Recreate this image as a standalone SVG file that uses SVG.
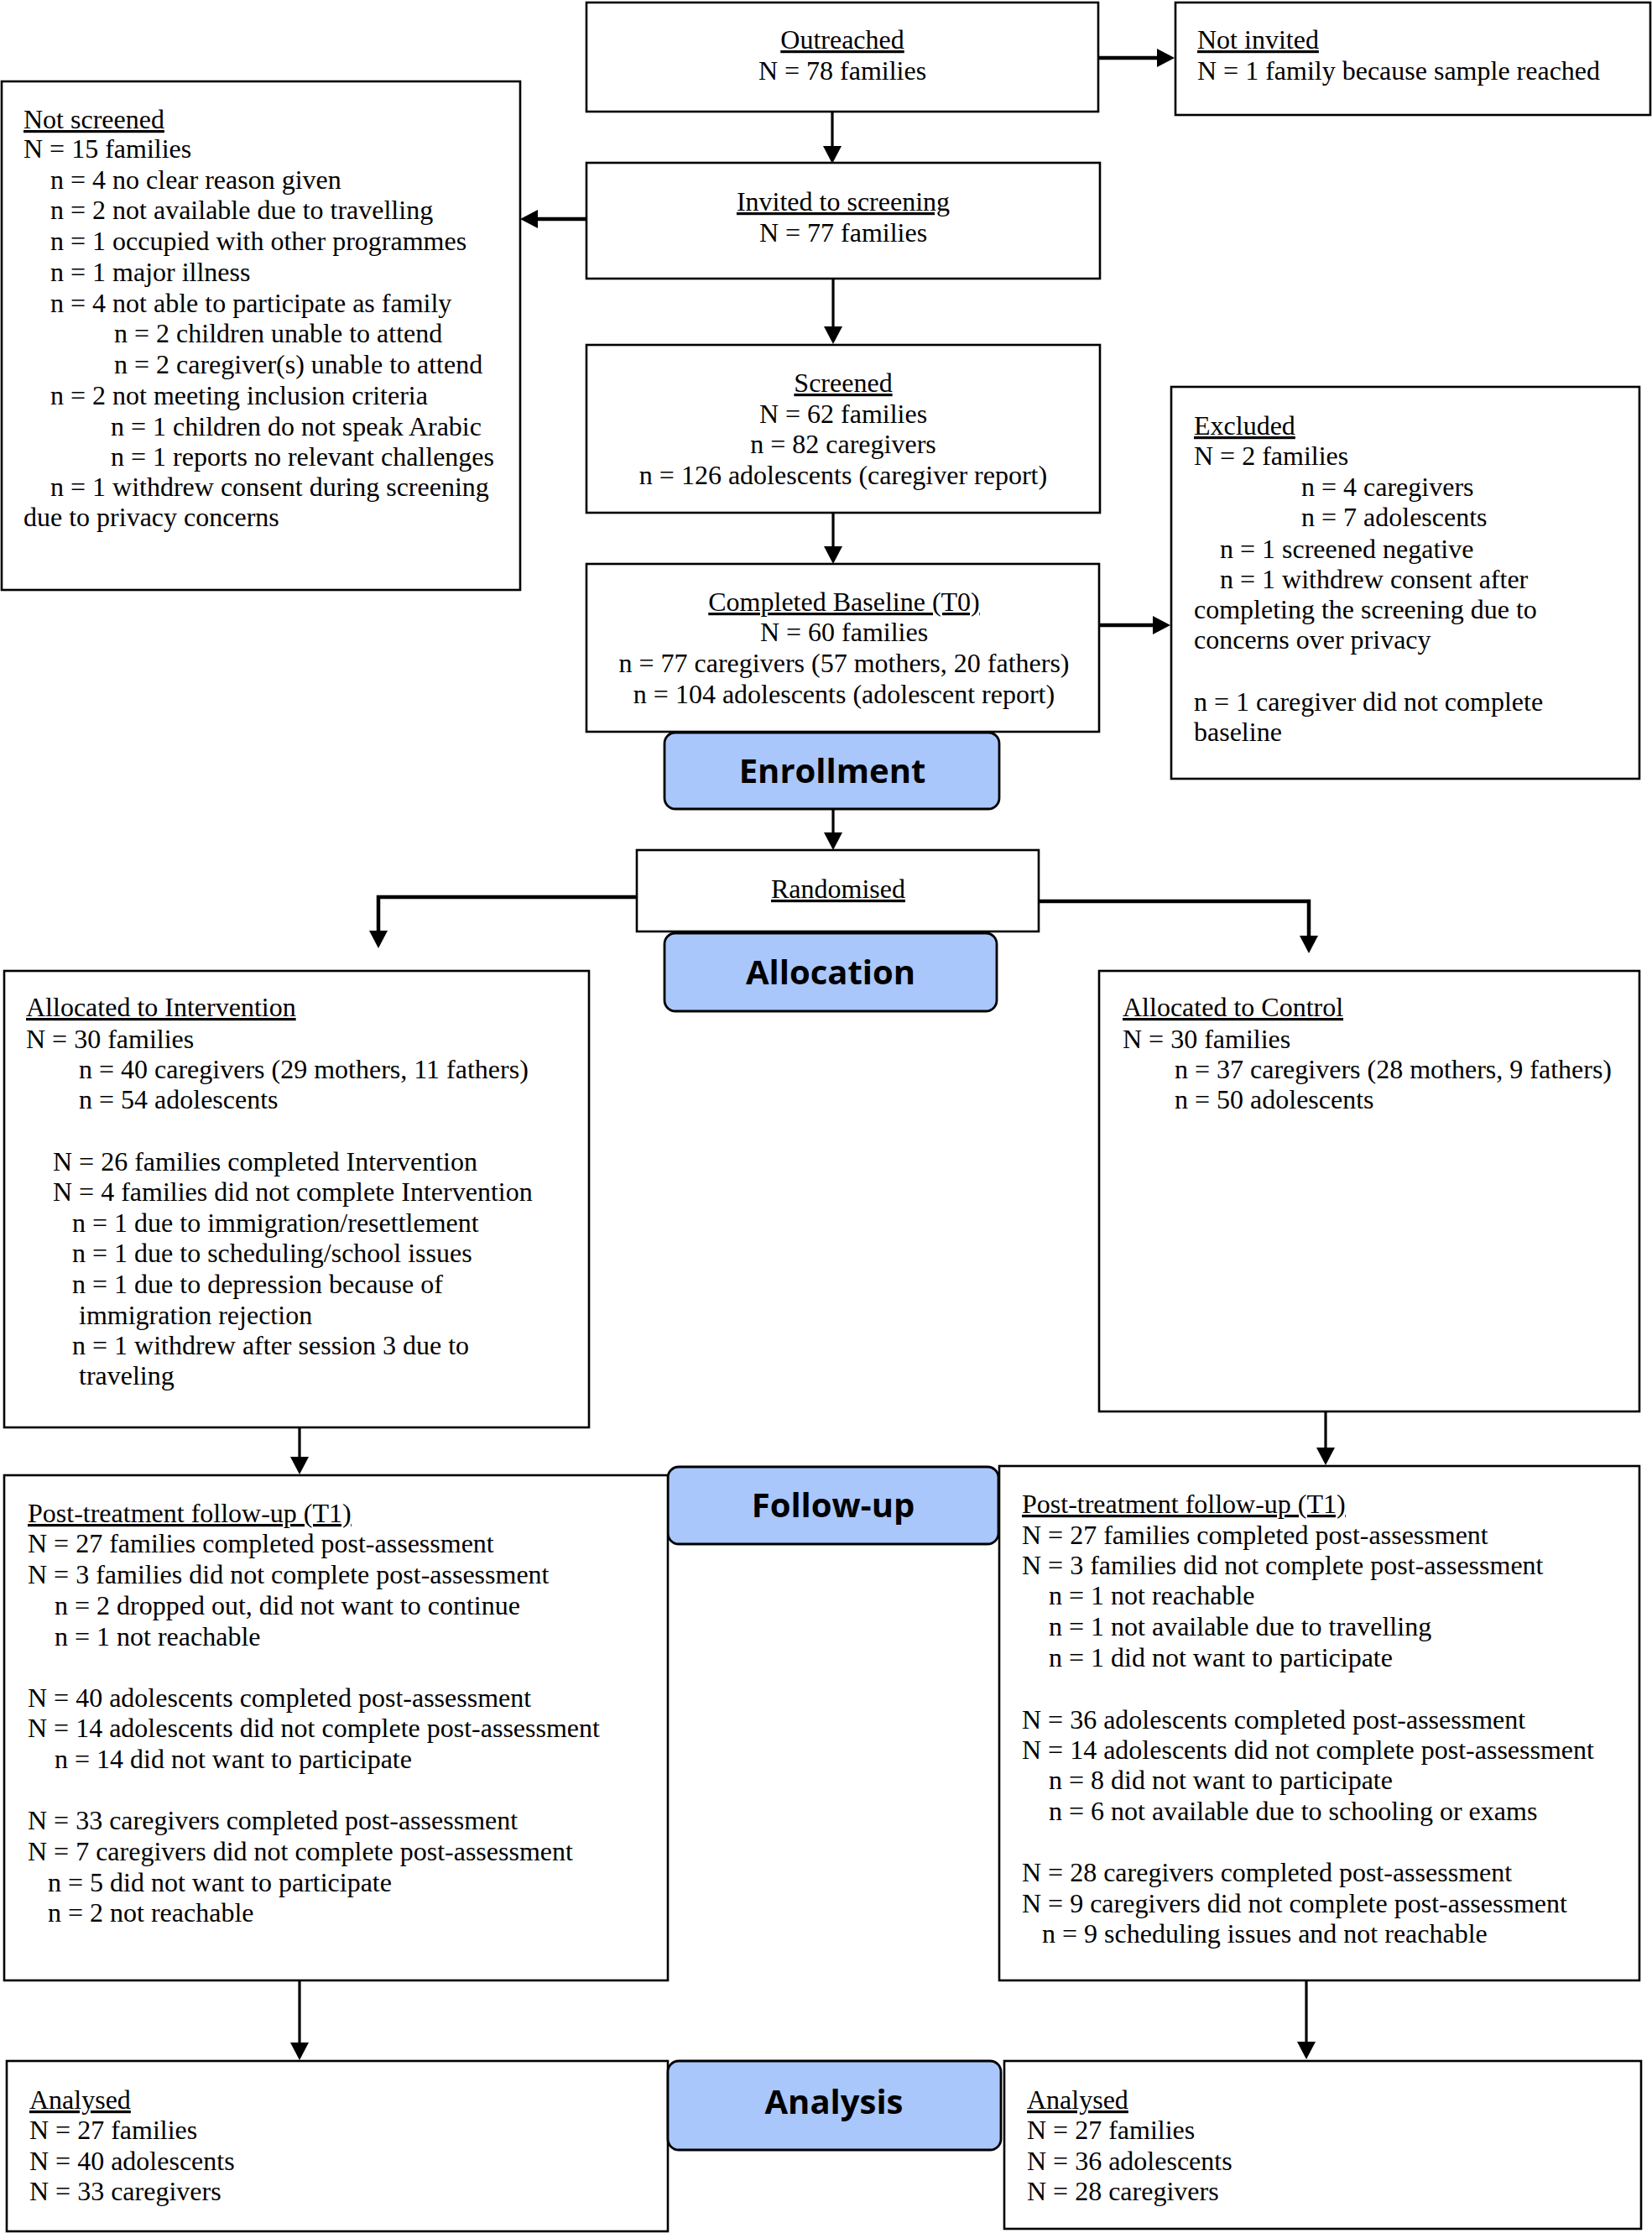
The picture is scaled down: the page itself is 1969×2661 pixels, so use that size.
<svg xmlns="http://www.w3.org/2000/svg" width="1969" height="2661" viewBox="0 0 1969 2661">
<style>
.box{fill:#fff;stroke:#000;stroke-width:2.6}
.lab{fill:#a9c7fb;stroke:#000;stroke-width:2.8}
text{font-family:"Liberation Serif","Times New Roman",serif;font-size:32px;fill:#000}
.c{text-anchor:middle}
.u{text-decoration:underline}
.lt{font-family:"Open Sans","Noto Sans","DejaVu Sans",sans-serif;font-weight:bold;font-size:40px;text-anchor:middle}
.ln{fill:none;stroke:#000;stroke-width:3.2;marker-end:url(#ah)}
.tk{fill:none;stroke:#000;stroke-width:4.5;marker-end:url(#ah)}
</style>
<defs>
<marker id="ah" markerUnits="userSpaceOnUse" markerWidth="21" markerHeight="22" viewBox="0 0 21 22" refX="0" refY="11" orient="auto">
<path d="M0,0 L21,11 L0,22 z" fill="#000"/>
</marker>
</defs>
<rect width="1969" height="2661" fill="#fff"/>

<g id="connectors">
<path class="ln" d="M992,132 V174"/>
<path class="tk" d="M1309,69 H1379"/>
<path class="tk" d="M699,261 H641"/>
<path class="ln" d="M993,333 V389"/>
<path class="ln" d="M993,612 V651"/>
<path class="tk" d="M1310,745 H1374"/>
<path class="ln" d="M993,964 V992"/>
<path class="tk" d="M759,1069 H451 V1109"/>
<path class="tk" d="M1238,1074 H1560 V1115"/>
<path class="ln" d="M357,1701 V1736"/>
<path class="ln" d="M1580,1682 V1725"/>
<path class="ln" d="M357,2360 V2434"/>
<path class="ln" d="M1557,2360 V2433"/>
</g>

<g id="outreached">
<rect class="box" x="699" y="3" width="610" height="130"/>
<text class="c u" x="1004" y="58">Outreached</text>
<text class="c" x="1004" y="95">N = 78 families</text>
</g>

<g id="not-invited">
<rect class="box" x="1401" y="3" width="566" height="134"/>
<text class="u" x="1427" y="58">Not invited</text>
<text x="1427" y="95">N = 1 family because sample reached</text>
</g>

<g id="not-screened">
<rect class="box" x="2" y="97" width="618" height="606"/>
<text class="u" x="28" y="153">Not screened</text>
<text x="28" y="188">N = 15 families</text>
<text x="60" y="224.5">n = 4 no clear reason given</text>
<text x="60" y="261">n = 2 not available due to travelling</text>
<text x="60" y="298">n = 1 occupied with other programmes</text>
<text x="60" y="335">n = 1 major illness</text>
<text x="60" y="372">n = 4 not able to participate as family</text>
<text x="136" y="408">n = 2 children unable to attend</text>
<text x="136" y="445">n = 2 caregiver(s) unable to attend</text>
<text x="60" y="482">n = 2 not meeting inclusion criteria</text>
<text x="132" y="519">n = 1 children do not speak Arabic</text>
<text x="132" y="555">n = 1 reports no relevant challenges</text>
<text x="60" y="591">n = 1 withdrew consent during screening</text>
<text x="28" y="627">due to privacy concerns</text>
</g>

<g id="invited">
<rect class="box" x="699" y="194" width="612" height="138"/>
<text class="c u" x="1005" y="251">Invited to screening</text>
<text class="c" x="1005" y="288">N = 77 families</text>
</g>

<g id="screened">
<rect class="box" x="699" y="411" width="612" height="200"/>
<text class="c u" x="1005" y="467">Screened</text>
<text class="c" x="1005" y="504">N = 62 families</text>
<text class="c" x="1005" y="540">n = 82 caregivers</text>
<text class="c" x="1005" y="577">n = 126 adolescents (caregiver report)</text>
</g>

<g id="baseline">
<rect class="box" x="699" y="672" width="611" height="200"/>
<text class="c u" x="1006" y="728">Completed Baseline (T0)</text>
<text class="c" x="1006" y="764">N = 60 families</text>
<text class="c" x="1006" y="801">n = 77 caregivers (57 mothers, 20 fathers)</text>
<text class="c" x="1006" y="838">n = 104 adolescents (adolescent report)</text>
</g>

<g id="excluded">
<rect class="box" x="1396" y="461" width="558" height="467"/>
<text class="u" x="1423" y="518">Excluded</text>
<text x="1423" y="554">N = 2 families</text>
<text x="1551" y="591">n = 4 caregivers</text>
<text x="1551" y="627">n = 7 adolescents</text>
<text x="1454" y="665">n = 1 screened negative</text>
<text x="1454" y="701">n = 1 withdrew consent after</text>
<text x="1423" y="737">completing the screening due to</text>
<text x="1423" y="773">concerns over privacy</text>
<text x="1423" y="847">n = 1 caregiver did not complete</text>
<text x="1423" y="883">baseline</text>
</g>

<g id="enrollment">
<rect class="lab" x="792" y="873" width="399" height="91" rx="13"/>
<text class="lt" x="992" y="933">Enrollment</text>
</g>

<g id="randomised">
<rect class="box" x="759" y="1013" width="479" height="97"/>
<text class="c u" x="999" y="1070">Randomised</text>
</g>

<g id="allocation">
<rect class="lab" x="792" y="1112" width="396" height="93" rx="13"/>
<text class="lt" x="990" y="1173">Allocation</text>
</g>

<g id="intervention">
<rect class="box" x="5" y="1157" width="697" height="544"/>
<text class="u" x="31" y="1211">Allocated to Intervention</text>
<text x="31" y="1249">N = 30 families</text>
<text x="94" y="1285">n = 40 caregivers (29 mothers, 11 fathers)</text>
<text x="94" y="1321">n = 54 adolescents</text>
<text x="63" y="1395">N = 26 families completed Intervention</text>
<text x="63" y="1431">N = 4 families did not complete Intervention</text>
<text x="86" y="1468">n = 1 due to immigration/resettlement</text>
<text x="86" y="1504">n = 1 due to scheduling/school issues</text>
<text x="86" y="1541">n = 1 due to depression because of</text>
<text x="94" y="1578">immigration rejection</text>
<text x="86" y="1614">n = 1 withdrew after session 3 due to</text>
<text x="94" y="1650">traveling</text>
</g>

<g id="control">
<rect class="box" x="1310" y="1157" width="644" height="525"/>
<text class="u" x="1338" y="1211">Allocated to Control</text>
<text x="1338" y="1249">N = 30 families</text>
<text x="1400" y="1285">n = 37 caregivers (28 mothers, 9 fathers)</text>
<text x="1400" y="1321">n = 50 adolescents</text>
</g>

<g id="followup">
<rect class="lab" x="796" y="1748" width="394" height="92" rx="13"/>
<text class="lt" x="993" y="1808">Follow-up</text>
</g>

<g id="post-left">
<rect class="box" x="5" y="1758" width="791" height="602"/>
<text class="u" x="33" y="1814">Post-treatment follow-up (T1)</text>
<text x="33" y="1850">N = 27 families completed post-assessment</text>
<text x="33" y="1887">N = 3 families did not complete post-assessment</text>
<text x="65" y="1924">n = 2 dropped out, did not want to continue</text>
<text x="65" y="1961">n = 1 not reachable</text>
<text x="33" y="2034">N = 40 adolescents completed post-assessment</text>
<text x="33" y="2070">N = 14 adolescents did not complete post-assessment</text>
<text x="65" y="2107">n = 14 did not want to participate</text>
<text x="33" y="2180">N = 33 caregivers completed post-assessment</text>
<text x="33" y="2217">N = 7 caregivers did not complete post-assessment</text>
<text x="57" y="2254">n = 5 did not want to participate</text>
<text x="57" y="2290">n = 2 not reachable</text>
</g>

<g id="post-right">
<rect class="box" x="1191" y="1747" width="763" height="613"/>
<text class="u" x="1218" y="1803">Post-treatment follow-up (T1)</text>
<text x="1218" y="1840">N = 27 families completed post-assessment</text>
<text x="1218" y="1876">N = 3 families did not complete post-assessment</text>
<text x="1250" y="1912">n = 1 not reachable</text>
<text x="1250" y="1949">n = 1 not available due to travelling</text>
<text x="1250" y="1986">n = 1 did not want to participate</text>
<text x="1218" y="2060">N = 36 adolescents completed post-assessment</text>
<text x="1218" y="2096">N = 14 adolescents did not complete post-assessment</text>
<text x="1250" y="2132">n = 8 did not want to participate</text>
<text x="1250" y="2169">n = 6 not available due to schooling or exams</text>
<text x="1218" y="2242">N = 28 caregivers completed post-assessment</text>
<text x="1218" y="2279">N = 9 caregivers did not complete post-assessment</text>
<text x="1242" y="2315">n = 9 scheduling issues and not reachable</text>
</g>

<g id="analysed-left">
<rect class="box" x="8" y="2456" width="788" height="203"/>
<text class="u" x="35" y="2513">Analysed</text>
<text x="35" y="2549">N = 27 families</text>
<text x="35" y="2586">N = 40 adolescents</text>
<text x="35" y="2622">N = 33 caregivers</text>
</g>

<g id="analysis">
<rect class="lab" x="796" y="2456" width="397" height="106" rx="13"/>
<text class="lt" x="994" y="2519">Analysis</text>
</g>

<g id="analysed-right">
<rect class="box" x="1197" y="2456" width="759" height="200"/>
<text class="u" x="1224" y="2513">Analysed</text>
<text x="1224" y="2549">N = 27 families</text>
<text x="1224" y="2586">N = 36 adolescents</text>
<text x="1224" y="2622">N = 28 caregivers</text>
</g>
</svg>
